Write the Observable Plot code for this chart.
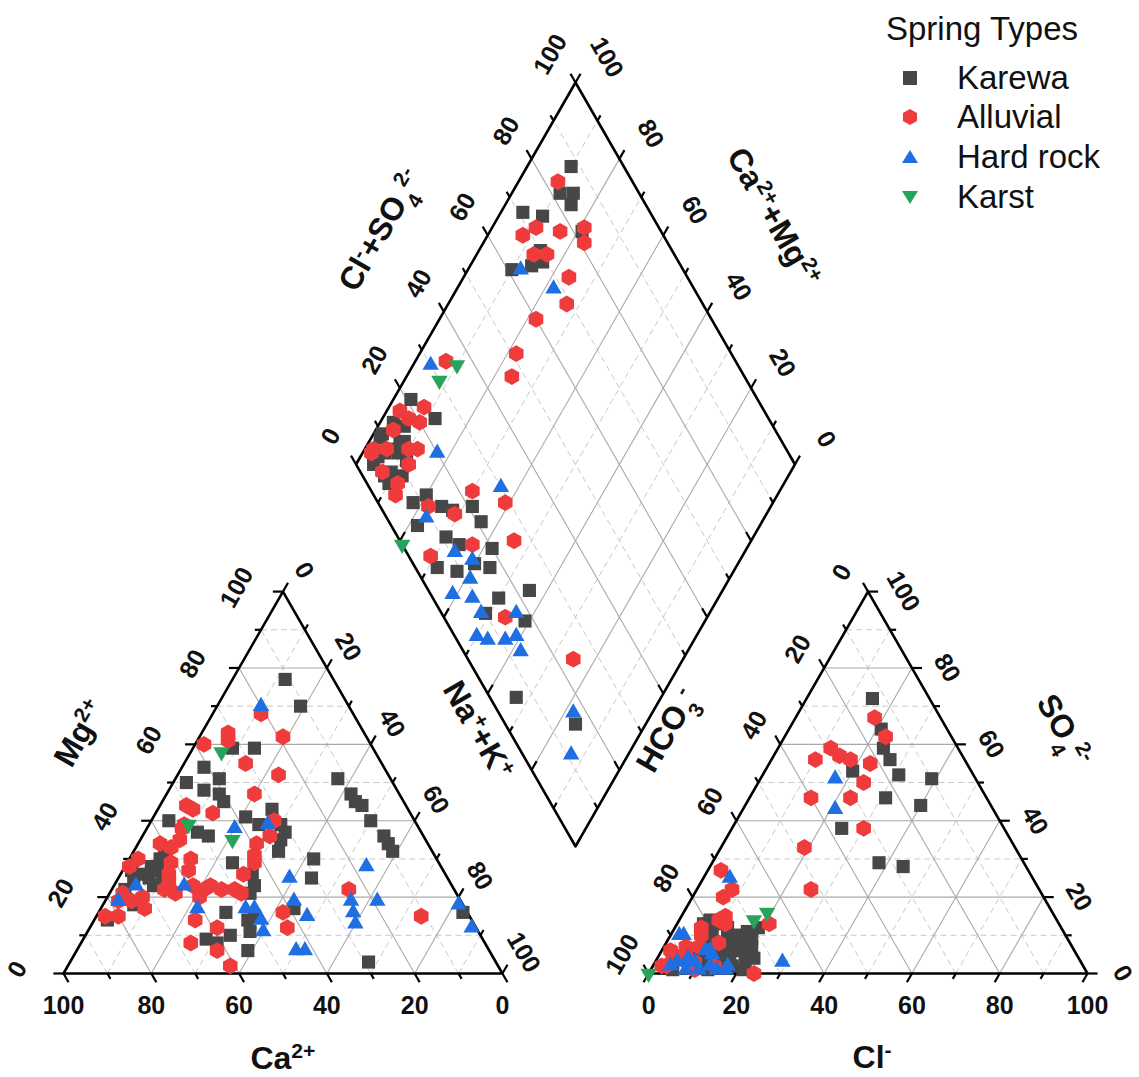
<!DOCTYPE html>
<html><head><meta charset="utf-8">
<script src="https://cdn.jsdelivr.net/npm/d3@7"></script>
<script src="https://cdn.jsdelivr.net/npm/@observablehq/plot@0.6"></script>
<style>
body{margin:0;background:#fff;}
#wrap{position:relative;width:1139px;height:1077px;overflow:hidden;font-family:"Liberation Sans",Arial,sans-serif;}
.lg{position:absolute;font-size:33px;color:#111;white-space:nowrap;}
</style></head><body><div id="wrap"></div>
<script>
// ---------------- DATA (percent of meq) ----------------
const springTypes = ["Karewa", "Alluvial", "Hard rock", "Karst"];

// Cation triangle: [Mg2+, Na+ + K+]  (Ca2+ = 100 - both)
const cationKarewa = [[77,12],[70,19],[59,14],[59,9],[54,5],[51,10],[48,8],[47,12],[45,14],[51,37],[47,42],[45,44],[44,46],[40,50],[40,4],[43,26],[41,21],[39,25],[39,30],[37,32],[35,32],[32,33],[37,12],[36,15],[36,55],[34,57],[32,59],[32,7],[30,7],[27,8],[27,2],[26,5],[25,7],[25,10],[29,24],[30,42],[25,44],[26,30],[23,32],[21,32],[16,29],[14,35],[15,36],[11,37],[9,28],[8,31],[10,33],[6,39],[3,68],[16,83],[14,3],[17,44],[18,7],[50,3],[24,4],[22,3],[28,6],[23,9]];
const cationAlluvial = [[68,11],[62,19],[63,6],[61,7],[60,2],[55,14],[52,23],[47,20],[44,6],[42,13],[39,8],[40,28],[36,29],[34,5],[35,9],[33,8],[30,14],[27,15],[29,10],[30,2],[28,1],[22,12],[21,15],[22,21],[20,21],[22,25],[22,28],[21,30],[31,28],[29,29],[26,28],[21,3],[19,3],[20,8],[17,10],[15,2],[15,5],[14,23],[12,29],[8,25],[6,32],[16,42],[12,45],[22,54],[15,74],[2,37],[43,8],[38,8],[34,27],[23,22],[24,12],[26,11],[19,6],[23,18]];
const cationHardRock = [[70,10],[38,20],[23,16],[23,5],[19,3],[17,22],[17,33],[17,35],[14,38],[11,40],[25,39],[19,43],[15,48],[28,55],[19,56],[16,58],[13,60],[19,62],[6,50],[6,52],[18,81],[12,87],[39,27]];
const cationKarst = [[58,7],[39,9],[35,21]];

// Anion triangle: [Cl-, SO4 2-]  (HCO3- = 100 - both)
const anionKarewa = [[15,72],[21,64],[24,59],[27,56],[31,52],[39,51],[20,53],[31,46],[40,44],[25,38],[38,29],[44,28],[6,13],[7,14],[13,10],[15,9],[17,6],[20,4],[11,7],[14,4],[10,4],[8,2],[5,1],[18,2],[16,10],[13,1],[18,8],[19,12],[9,9],[16,3],[21,1],[12,12],[7,13],[10,13],[15,10],[18,6],[21,2],[14,7],[11,3],[14,2],[8,5],[19,9],[17,11],[20,7],[12,5],[16,5],[22,4],[9,11]];
const anionAlluvial = [[18,67],[23,62],[12,59],[15,57],[10,56],[18,56],[23,55],[24,50],[14,46],[23,46],[30,38],[19,33],[26,22],[3,27],[8,22],[7,20],[11,13],[21,13],[24,0],[7,10],[5,7],[4,4],[3,2],[14,2],[9,3],[12,8],[6,5],[10,1],[2,6],[10,15],[8,7],[3,5],[2,2],[6,12],[9,14]];
const anionHardRock = [[17,51],[21,43],[6,25],[29,3],[10,6],[7,4],[2,10],[11,1],[15,1],[8,1],[12,5],[4,2],[17,1],[3,10],[11,6],[9,3],[13,2],[17,2],[5,3]];
const anionKarst = [[17,14],[19,16],[0,0]];

// Diamond: [Ca2+ + Mg2+, Cl- + SO4 2-]
const diamondKarewa = [[90,88],[89,82],[86,85],[85,83],[95,71],[90,75],[79,82],[86,70],[90,61],[86,66],[84,69],[96,21],[88,24],[94,16],[98,10],[95,8],[92,11],[98,9],[92,5],[90,5],[78,6],[75,14],[70,11],[68,21],[64,21],[58,20],[68,5],[63,9],[56,17],[50,15],[44,23],[51,10],[41,18],[33,6],[16,16],[96,4],[93,13],[97,14],[91,7],[88,9],[82,8],[80,12],[72,16],[60,14],[66,13],[94,10],[96,6],[92,14],[89,12]];
const diamondAlluvial = [[91,83],[90,72],[84,77],[92,68],[79,83],[77,81],[87,68],[84,71],[76,73],[73,69],[78,60],[78,51],[76,47],[93,34],[97,17],[92,23],[91,20],[88,16],[98,6],[98,5],[87,5],[78,11],[71,16],[70,23],[61,29],[54,26],[71,5],[63,16],[46,14],[25,24],[96,13],[88,12],[93,5],[88,7],[95,9],[90,14],[94,18]];
const diamondHardRock = [[88,63],[78,68],[96,30],[83,20],[64,30],[77,9],[66,11],[61,14],[59,11],[61,5],[56,9],[52,9],[44,17],[50,5],[47,7],[43,11],[41,14],[38,13],[18,17],[13,11]];
const diamondKarst = [[90,36],[92,30],[79,0]];

const tickValues = [0,10,20,30,40,50,60,70,80,90,100];
const labelValues = [0,20,40,60,80,100];

// ---------------- GEOMETRY (ternary -> abstract plane) ----------------
const H = Math.sqrt(3) / 2, GAP = 33.3;
const OX = 100 + GAP;                  // anion triangle origin
const BX = 100 + GAP / 2, BY = GAP / 2 * Math.sqrt(3); // diamond bottom vertex
const tri = (ox, a, s) => [ox + a + s / 2, s * H];
const dia = (c, a) => [BX + 0.5 * (a - c), BY + H * (a + c)];

const styles = {
  "Karewa":    {symbol: "square",   fill: "#474747", r: 7.4},
  "Alluvial":  {symbol: "hexagon",  fill: "#ef3b3b", r: 7.3},
  "Hard rock": {symbol: "triangle", fill: "#1f6fe3", r: 6.1},
  "Karst":     {symbol: {draw(ctx, size) {const y = -Math.sqrt(size / (Math.sqrt(3) * 3)); ctx.moveTo(0, -y * 2); ctx.lineTo(-Math.sqrt(3) * y, y); ctx.lineTo(Math.sqrt(3) * y, y); ctx.closePath();}}, fill: "#27a35c", r: 6.1}
};
const sets = {
  "Karewa": [cationKarewa, anionKarewa, diamondKarewa],
  "Alluvial": [cationAlluvial, anionAlluvial, diamondAlluvial],
  "Hard rock": [cationHardRock, anionHardRock, diamondHardRock],
  "Karst": [cationKarst, anionKarst, diamondKarst]
};
function pointsOf(type) {
  const [cat, an, di] = sets[type];
  const rows = [];
  for (const [mg, nak] of cat) { const [x, y] = tri(0, nak, mg); rows.push({x, y}); }
  for (const [cl, so4] of an) { const [x, y] = tri(OX, cl, so4); rows.push({x, y}); }
  for (const [cm, cs] of di) { const [x, y] = dia(cm, cs); rows.push({x, y}); }
  return rows;
}

// grid
const grid = [];
const seg = (p, q, v) => grid.push({x1: p[0], y1: p[1], x2: q[0], y2: q[1], major: v % 20 === 0});
for (const v of tickValues.filter(v => v > 0 && v < 100)) {
  seg(tri(0, 0, v), tri(0, 100 - v, v), v);
  seg(tri(0, v, 0), tri(0, v, 100 - v), v);
  seg(tri(0, 100 - v, 0), tri(0, 0, 100 - v), v);
  seg(tri(OX, 0, v), tri(OX, 100 - v, v), v);
  seg(tri(OX, v, 0), tri(OX, v, 100 - v), v);
  seg(tri(OX, 100 - v, 0), tri(OX, 0, 100 - v), v);
  seg(dia(v, 0), dia(v, 100), v);
  seg(dia(0, v), dia(100, v), v);
}

// frames
const frames = [];
const poly = (id, pts) => pts.concat([pts[0]]).forEach(([x, y]) => frames.push({id, x, y}));
poly("cat", [tri(0, 0, 0), tri(0, 100, 0), tri(0, 0, 100)]);
poly("an", [tri(OX, 0, 0), tri(OX, 100, 0), tri(OX, 0, 100)]);
poly("dia", [dia(0, 0), dia(0, 100), dia(100, 100), dia(100, 0)]);

// axes
const axes = [
  {pos: v => tri(0, 100 - v, 0), dir: [0.5, -H], dx: 0, dy: 32, rot: 0},
  {pos: v => tri(0, 0, v), dir: [-1, 0], dx: -46, dy: -4, rot: -60},
  {pos: v => tri(0, v, 100 - v), dir: [0.5, H], dx: 21, dy: -21, rot: 60},
  {pos: v => tri(OX, v, 0), dir: [-0.5, -H], dx: 0, dy: 32, rot: 0},
  {pos: v => tri(OX, 0, 100 - v), dir: [-0.5, H], dx: -26, dy: -19, rot: -60},
  {pos: v => tri(OX, 100 - v, v), dir: [1, 0], dx: 35, dy: 0, rot: 60},
  {pos: v => dia(100, v), dir: [-0.5, H], dx: -25, dy: -28, rot: -60},
  {pos: v => dia(v, 100), dir: [0.5, H], dx: 31, dy: -25, rot: 60},
  {pos: v => dia(v, 0), dir: [0.5, H], inner: true},
  {pos: v => dia(0, v), dir: [-0.5, H], inner: true}
];
const ticks = [];
for (const ax of axes) for (const v of tickValues) {
  const [x, y] = ax.pos(v), L = v % 20 === 0 ? 2.3 : 1.4;
  ticks.push({x1: x, y1: y, x2: x + ax.dir[0] * L, y2: y + ax.dir[1] * L});
}

const titles = [
  {text: "Ca^{2+}", at: tri(0, 50, 0), dx: 0, dy: 85, rot: 0},
  {text: "Mg^{2+}", at: tri(0, 0, 60), dx: -115, dy: -11, rot: -60},
  {text: "Na^{+}+K^{+}", at: tri(0, 40, 60), dx: 107, dy: -14, rot: 60},
  {text: "Cl^{-}", at: tri(OX, 50, 0), dx: 4, dy: 84, rot: 0},
  {text: "HCO_{3}^{-}", at: tri(OX, 0, 60), dx: -113, dy: -14, rot: -60},
  {text: "SO_{4}^{2-}", at: tri(OX, 40, 60), dx: 108, dy: -14, rot: 60},
  {text: "Cl^{-}+SO_{4}^{2-}", at: dia(100, 60), dx: -107, dy: -5, rot: -60},
  {text: "Ca^{2+}+Mg^{2+}", at: dia(60, 100), dx: 110, dy: -18, rot: 60}
];

const marks = [
  Plot.link(grid.filter(d => !d.major), {x1: "x1", y1: "y1", x2: "x2", y2: "y2", stroke: "#c9c9c9", strokeWidth: 1, strokeDasharray: "6,4"}),
  Plot.link(grid.filter(d => d.major), {x1: "x1", y1: "y1", x2: "x2", y2: "y2", stroke: "#a9a9a9", strokeWidth: 1.1}),
  Plot.line(frames, {x: "x", y: "y", z: "id", stroke: "#000", strokeWidth: 2.6, strokeLinejoin: "miter"}),
  Plot.link(ticks, {x1: "x1", y1: "y1", x2: "x2", y2: "y2", stroke: "#000", strokeWidth: 2.2})
];
for (const ax of axes.filter(a => !a.inner)) {
  const lab = labelValues.map(v => { const [x, y] = ax.pos(v); return {x, y, t: String(v)}; });
  marks.push(Plot.text(lab, {x: "x", y: "y", text: "t", dx: ax.dx, dy: ax.dy, rotate: ax.rot, fontSize: 25, fontWeight: "bold", fill: "#111"}));
}
for (const t of titles) {
  marks.push(Plot.text([{x: t.at[0], y: t.at[1], t: t.text}], {x: "x", y: "y", text: "t", dx: t.dx, dy: t.dy, rotate: t.rot, fontSize: 32, fontWeight: "bold", fill: "#111"}));
}
for (const type of springTypes) {
  const s = styles[type];
  marks.push(Plot.dot(pointsOf(type), {x: "x", y: "y", symbol: s.symbol, fill: s.fill, r: s.r, stroke: "none"}));
}

const chart = Plot.plot({
  width: 1139, height: 1077,
  x: {domain: [0, 200 + GAP], range: [63, 1087], axis: null},
  y: {domain: [0, BY + 2 * 100 * H], range: [973, 82], axis: null},
  style: {fontFamily: '"Liberation Sans", Arial, sans-serif', background: "#fff", overflow: "visible"},
  marks
});

// rich text: ^{..} superscript, _{..} subscript
d3.select(chart).selectAll("text").each(function () {
  const s = this.textContent;
  if (!/[\^_]\{/.test(s)) return;
  this.textContent = "";
  const re = /([\^_])\{([^}]*)\}|([^\^_]+)/g; let m;
  while ((m = re.exec(s))) {
    const t = document.createElementNS("http://www.w3.org/2000/svg", "tspan");
    if (m[3]) t.textContent = m[3];
    else { t.textContent = m[2]; t.setAttribute("font-size", "66%"); t.setAttribute("baseline-shift", m[1] === "^" ? "super" : "sub"); }
    this.appendChild(t);
  }
});

const wrap = document.getElementById("wrap");
wrap.appendChild(chart);

// legend
const lgTitle = document.createElement("div");
lgTitle.className = "lg"; lgTitle.style.left = "886px"; lgTitle.style.top = "10px"; lgTitle.textContent = "Spring Types";
wrap.appendChild(lgTitle);
const shapes = {
  "Karewa": '<rect x="-7" y="-7" width="14" height="14"/>',
  "Alluvial": '<polygon points="0,-8 7,-4 7,4 0,8 -7,4 -7,-4"/>',
  "Hard rock": '<polygon points="0,-7 8,6 -8,6"/>',
  "Karst": '<polygon points="0,7 8,-6 -8,-6"/>'
};
const rowY = [78, 117, 157, 197];
springTypes.forEach((type, i) => {
  const sv = document.createElementNS("http://www.w3.org/2000/svg", "svg");
  sv.setAttribute("width", 24); sv.setAttribute("height", 24); sv.setAttribute("viewBox", "-12 -12 24 24");
  sv.style.position = "absolute"; sv.style.left = (910 - 12) + "px"; sv.style.top = (rowY[i] - 12) + "px";
  sv.innerHTML = `<g fill="${styles[type].fill}">${shapes[type]}</g>`;
  wrap.appendChild(sv);
  const d = document.createElement("div");
  d.className = "lg"; d.style.left = "957px"; d.style.top = (rowY[i] - 19) + "px"; d.textContent = type;
  wrap.appendChild(d);
});
</script></body></html>
